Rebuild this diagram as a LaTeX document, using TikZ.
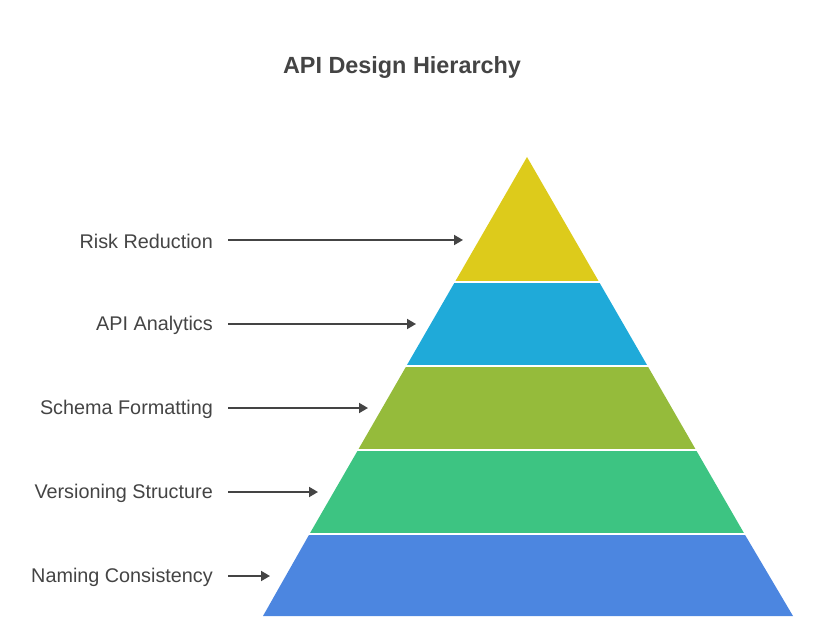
\documentclass[tikz,border=0pt]{standalone}
\usepackage{fontspec}
\setmainfont{Liberation Sans}
\usetikzlibrary{arrows.meta}
\definecolor{cYel}{HTML}{DDCB1B}
\definecolor{cCya}{HTML}{1FAAD9}
\definecolor{cGrn}{HTML}{95BB3B}
\definecolor{cEme}{HTML}{3DC482}
\definecolor{cBlu}{HTML}{4C86E0}
\definecolor{cTxt}{HTML}{444444}
\begin{document}
\begin{tikzpicture}[x=1pt,y=-1pt,
  lbl/.style={anchor=east,text=cTxt,font=\fontsize{19.8}{23}\selectfont,inner sep=0pt},
  arr/.style={draw=cTxt,line width=1.8pt,-{Triangle[length=9pt,width=10pt]}},
  sep/.style={draw=white,line width=2pt}]
\useasboundingbox (0,0) rectangle (819,628);
% pyramid layers
\fill[cYel] (527,157) -- (599.1,282) -- (454.9,282) -- cycle;
\fill[cCya] (454.9,282) -- (599.1,282) -- (647.6,366) -- (406.4,366) -- cycle;
\fill[cGrn] (406.4,366) -- (647.6,366) -- (696.0,450) -- (358.0,450) -- cycle;
\fill[cEme] (358.0,450) -- (696.0,450) -- (744.5,534) -- (309.5,534) -- cycle;
\fill[cBlu] (309.5,534) -- (744.5,534) -- (793,616) -- (263,616) -- cycle;
\draw[sep] (450,282) -- (604,282);
\draw[sep] (401,366) -- (653,366);
\draw[sep] (353,450) -- (701,450);
\draw[sep] (304,534) -- (750,534);
% title
\node[text=cTxt,font=\fontsize{23.4}{28}\selectfont\bfseries] (title) at (402,68) {API Design Hierarchy};
% labels
\node[lbl] (l1) at (213,241) {Risk Reduction};
\node[lbl] (l2) at (213,325) {API Analytics};
\node[lbl] (l3) at (213,409) {Schema Formatting};
\node[lbl] (l4) at (213,493) {Versioning Structure};
\node[lbl] (l5) at (213,577) {Naming Consistency};
\coordinate (s1) at (228,240);
\coordinate (s2) at (228,324);
\coordinate (s3) at (228,408);
\coordinate (s4) at (228,492);
\coordinate (s5) at (228,576);
\coordinate (t1) at (463,240);
\coordinate (t2) at (416,324);
\coordinate (t3) at (368,408);
\coordinate (t4) at (318,492);
\coordinate (t5) at (270,576);
\draw[arr] (s1) -- (t1);
\draw[arr] (s2) -- (t2);
\draw[arr] (s3) -- (t3);
\draw[arr] (s4) -- (t4);
\draw[arr] (s5) -- (t5);
\end{tikzpicture}
\end{document}
